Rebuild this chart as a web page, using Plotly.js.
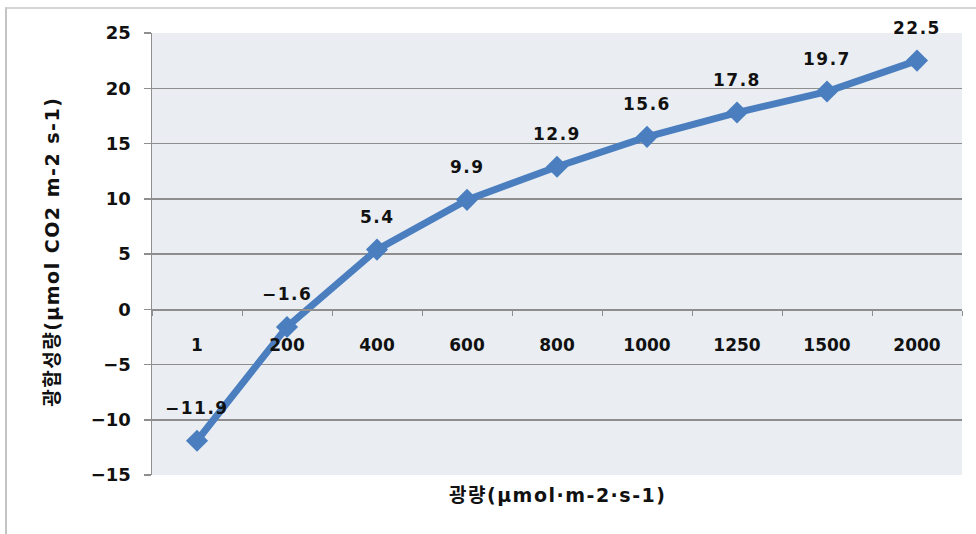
<!DOCTYPE html>
<html>
<head>
<meta charset="utf-8">
<script src="https://cdn.plot.ly/plotly-3.0.1.min.js"></script>
<style>
  html, body { margin: 0; padding: 0; background: #ffffff; }
  #wrap { position: relative; width: 976px; height: 534px; overflow: hidden; }
  #chart { position: absolute; left: 0; top: 0; width: 976px; height: 534px; }
  #frame { position: absolute; left: 5px; top: 7px; width: 990px; height: 560px;
           border-left: 2px solid #c4c4c4; border-top: 2px solid #d4d4d4; pointer-events: none; }
  .annotation-text { letter-spacing: 1.5px; }
</style>
</head>
<body>
<div id="wrap">
  <div id="chart"></div>
  <div id="frame"></div>
</div>
<script>
// Light intensity categories (µmol·m-2·s-1)
const categories = ["1", "200", "400", "600", "800", "1000", "1250", "1500", "2000"];
// Photosynthesis rate (µmol CO2 m-2 s-1)
const values = [-11.9, -1.6, 5.4, 9.9, 12.9, 15.6, 17.8, 19.7, 22.5];
const yTicks = [-15, -10, -5, 0, 5, 10, 15, 20, 25];
const yTitle = "광합성량(μmol CO2 m-2 s-1)";
const xTitle = "광량(μmol·m-2·s-1)";

const numFont = "DejaVu Sans, Noto Sans, sans-serif";
const krFont = "DejaVu Sans, Noto Sans CJK KR, sans-serif";
const fmt = v => v.toFixed(1).replace('-', '\u2212');

const trace = {
  type: 'scatter',
  mode: 'lines+markers',
  x: categories,
  y: values,
  line: { color: '#4a7ebf', width: 7 },
  marker: { symbol: 'diamond', size: 17, color: '#4a7ebf' },
  hoverinfo: 'skip',
  cliponaxis: false
};

// category axis: annotation x given as the category index
const annotations = categories.map((c, i) => ({
  x: i, y: values[i], xref: 'x', yref: 'y',
  text: '<b>' + fmt(values[i]) + '</b>',
  showarrow: false, yshift: 33,
  font: { family: numFont, size: 17, color: '#111111' }
}));

annotations.push({
  xref: 'paper', yref: 'paper', x: 0, y: 0.505, xanchor: 'center', yanchor: 'middle',
  xshift: -100, textangle: -90, showarrow: false,
  text: '<b>' + yTitle + '</b>',
  font: { family: krFont, size: 19, color: '#111111' }
});
annotations.push({
  xref: 'paper', yref: 'paper', x: 0.5, y: 0, xanchor: 'center', yanchor: 'middle',
  yshift: -20, showarrow: false,
  text: '<b>' + xTitle + '</b>',
  font: { family: krFont, size: 19, color: '#111111' }
});

const layout = {
  width: 976, height: 534,
  margin: { l: 152, r: 14, t: 33, b: 59 },
  paper_bgcolor: '#ffffff',
  plot_bgcolor: '#eaeef3',
  showlegend: false,
  xaxis: {
    type: 'category',
    range: [-0.5, 8.5],
    anchor: 'free',
    position: 0.375,
    showline: true, linecolor: '#8e8e8e', linewidth: 1.5,
    showgrid: false, zeroline: false,
    ticks: 'outside', ticklen: 5, tickcolor: '#8e8e8e', tickwidth: 1,
    tickson: 'boundaries',
    ticklabelstandoff: 20,
    tickfont: { family: numFont, size: 17, color: '#111111', weight: 'bold' }
  },
  yaxis: {
    range: [-15, 25],
    tickvals: yTicks,
    showline: true, linecolor: '#8e8e8e', linewidth: 1.5,
    showgrid: true, gridcolor: '#8e8e8e', gridwidth: 1.5,
    zeroline: false,
    ticks: 'outside', ticklen: 7, tickcolor: '#8e8e8e', tickwidth: 1.5,
    ticklabelstandoff: 9,
    tickfont: { family: numFont, size: 18, color: '#111111', weight: 'bold' }
  },
  annotations: annotations
};

Plotly.newPlot('chart', [trace], layout, { staticPlot: true, displayModeBar: false });
</script>
</body>
</html>
